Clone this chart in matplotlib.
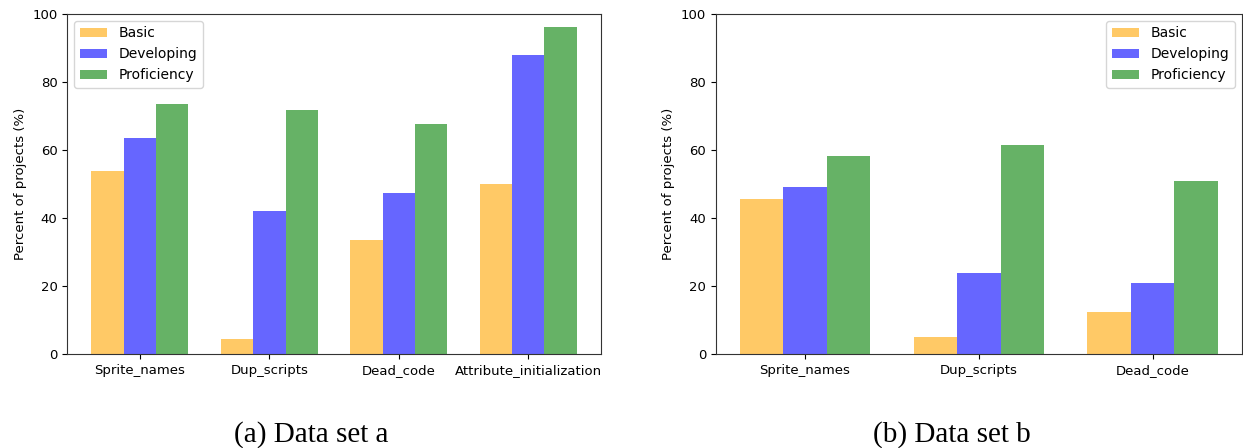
import matplotlib
matplotlib.use("Agg")
import matplotlib.pyplot as plt
import numpy as np

series = ["Basic", "Developing", "Proficiency"]
colors = ["orange", "blue", "green"]

cats_a = ["Sprite_names", "Dup_scripts", "Dead_code", "Attribute_initialization"]
basic_a = [53.7, 4.5, 33.5, 50.0]
dev_a = [63.5, 42.0, 47.3, 88.0]
prof_a = [73.6, 71.6, 67.5, 96.0]

cats_b = ["Sprite_names", "Dup_scripts", "Dead_code"]
basic_b = [45.7, 5.0, 12.3]
dev_b = [49.2, 23.8, 21.0]
prof_b = [58.2, 61.5, 51.0]

captions = ["(a) Data set a", "(b) Data set b"]

fig = plt.figure(figsize=(12.43, 4.48), dpi=100)
ax1 = fig.add_axes([0.054, 0.21, 0.4295, 0.759])
ax2 = fig.add_axes([0.576, 0.21, 0.423, 0.759])

def draw(ax, cats, vals, loc):
    x = np.arange(len(cats))
    w = 0.25
    for i, (v, c, s) in enumerate(zip(vals, colors, series)):
        ax.bar(x + (i - 1) * w, v, w, color=c, alpha=0.6, label=s)
    ax.set_xticks(x)
    ax.set_xticklabels(cats, fontsize=9.5)
    ax.set_ylim(0, 100)
    ax.tick_params(axis="y", labelsize=9.5)
    ax.set_ylabel("Percent of projects (%)", fontsize=9.5)
    ax.legend(loc=loc, fontsize=10)
    for sp in ax.spines.values():
        sp.set_color("#333333")

draw(ax1, cats_a, [basic_a, dev_a, prof_a], "upper left")
draw(ax2, cats_b, [basic_b, dev_b, prof_b], "upper right")

fig.text(0.25, 0.015, captions[0], ha="center", fontsize=21, family="Liberation Serif")
fig.text(0.766, 0.015, captions[1], ha="center", fontsize=21, family="Liberation Serif")

fig.savefig("out.png", dpi=100)
